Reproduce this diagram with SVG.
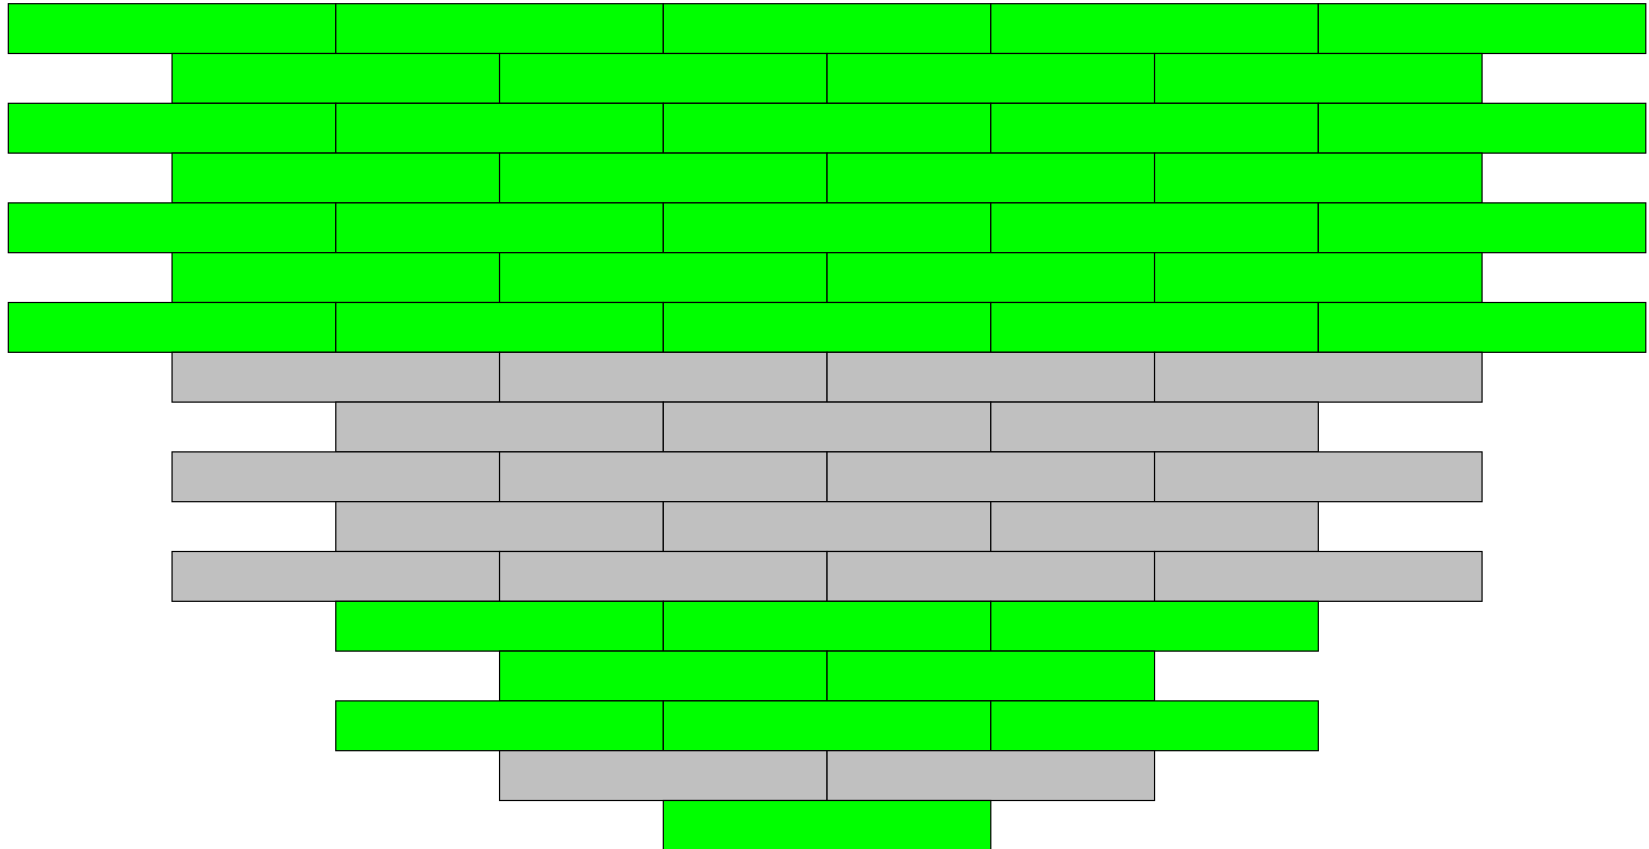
<svg xmlns="http://www.w3.org/2000/svg" width="1649" height="849" viewBox="0 0 1649 849">
<style>
.g{fill:#00ff00;stroke:#000;stroke-width:1.2}
.s{fill:#c0c0c0;stroke:#000;stroke-width:1.2}
</style>
<rect width="1649" height="849" fill="#fff"/>
<g id="row0"><rect class="g" x="8.3" y="3.7" width="327.5" height="49.8"/><rect class="g" x="335.8" y="3.7" width="327.5" height="49.8"/><rect class="g" x="663.3" y="3.7" width="327.5" height="49.8"/><rect class="g" x="990.8" y="3.7" width="327.5" height="49.8"/><rect class="g" x="1318.3" y="3.7" width="327.5" height="49.8"/></g>
<g id="row1"><rect class="g" x="172.05" y="53.5" width="327.5" height="49.8"/><rect class="g" x="499.55" y="53.5" width="327.5" height="49.8"/><rect class="g" x="827.05" y="53.5" width="327.5" height="49.8"/><rect class="g" x="1154.55" y="53.5" width="327.5" height="49.8"/></g>
<g id="row2"><rect class="g" x="8.3" y="103.3" width="327.5" height="49.8"/><rect class="g" x="335.8" y="103.3" width="327.5" height="49.8"/><rect class="g" x="663.3" y="103.3" width="327.5" height="49.8"/><rect class="g" x="990.8" y="103.3" width="327.5" height="49.8"/><rect class="g" x="1318.3" y="103.3" width="327.5" height="49.8"/></g>
<g id="row3"><rect class="g" x="172.05" y="153.1" width="327.5" height="49.8"/><rect class="g" x="499.55" y="153.1" width="327.5" height="49.8"/><rect class="g" x="827.05" y="153.1" width="327.5" height="49.8"/><rect class="g" x="1154.55" y="153.1" width="327.5" height="49.8"/></g>
<g id="row4"><rect class="g" x="8.3" y="202.9" width="327.5" height="49.8"/><rect class="g" x="335.8" y="202.9" width="327.5" height="49.8"/><rect class="g" x="663.3" y="202.9" width="327.5" height="49.8"/><rect class="g" x="990.8" y="202.9" width="327.5" height="49.8"/><rect class="g" x="1318.3" y="202.9" width="327.5" height="49.8"/></g>
<g id="row5"><rect class="g" x="172.05" y="252.7" width="327.5" height="49.8"/><rect class="g" x="499.55" y="252.7" width="327.5" height="49.8"/><rect class="g" x="827.05" y="252.7" width="327.5" height="49.8"/><rect class="g" x="1154.55" y="252.7" width="327.5" height="49.8"/></g>
<g id="row6"><rect class="g" x="8.3" y="302.5" width="327.5" height="49.8"/><rect class="g" x="335.8" y="302.5" width="327.5" height="49.8"/><rect class="g" x="663.3" y="302.5" width="327.5" height="49.8"/><rect class="g" x="990.8" y="302.5" width="327.5" height="49.8"/><rect class="g" x="1318.3" y="302.5" width="327.5" height="49.8"/></g>
<g id="row7"><rect class="s" x="172.05" y="352.3" width="327.5" height="49.8"/><rect class="s" x="499.55" y="352.3" width="327.5" height="49.8"/><rect class="s" x="827.05" y="352.3" width="327.5" height="49.8"/><rect class="s" x="1154.55" y="352.3" width="327.5" height="49.8"/></g>
<g id="row8"><rect class="s" x="335.8" y="402.1" width="327.5" height="49.8"/><rect class="s" x="663.3" y="402.1" width="327.5" height="49.8"/><rect class="s" x="990.8" y="402.1" width="327.5" height="49.8"/></g>
<g id="row9"><rect class="s" x="172.05" y="451.9" width="327.5" height="49.8"/><rect class="s" x="499.55" y="451.9" width="327.5" height="49.8"/><rect class="s" x="827.05" y="451.9" width="327.5" height="49.8"/><rect class="s" x="1154.55" y="451.9" width="327.5" height="49.8"/></g>
<g id="row10"><rect class="s" x="335.8" y="501.7" width="327.5" height="49.8"/><rect class="s" x="663.3" y="501.7" width="327.5" height="49.8"/><rect class="s" x="990.8" y="501.7" width="327.5" height="49.8"/></g>
<g id="row11"><rect class="s" x="172.05" y="551.5" width="327.5" height="49.8"/><rect class="s" x="499.55" y="551.5" width="327.5" height="49.8"/><rect class="s" x="827.05" y="551.5" width="327.5" height="49.8"/><rect class="s" x="1154.55" y="551.5" width="327.5" height="49.8"/></g>
<g id="row12"><rect class="g" x="335.8" y="601.3" width="327.5" height="49.8"/><rect class="g" x="663.3" y="601.3" width="327.5" height="49.8"/><rect class="g" x="990.8" y="601.3" width="327.5" height="49.8"/></g>
<g id="row13"><rect class="g" x="499.55" y="651.1" width="327.5" height="49.8"/><rect class="g" x="827.05" y="651.1" width="327.5" height="49.8"/></g>
<g id="row14"><rect class="g" x="335.8" y="700.9" width="327.5" height="49.8"/><rect class="g" x="663.3" y="700.9" width="327.5" height="49.8"/><rect class="g" x="990.8" y="700.9" width="327.5" height="49.8"/></g>
<g id="row15"><rect class="s" x="499.55" y="750.7" width="327.5" height="49.8"/><rect class="s" x="827.05" y="750.7" width="327.5" height="49.8"/></g>
<g id="row16"><rect class="g" x="663.3" y="800.5" width="327.5" height="49.8"/></g>
</svg>
